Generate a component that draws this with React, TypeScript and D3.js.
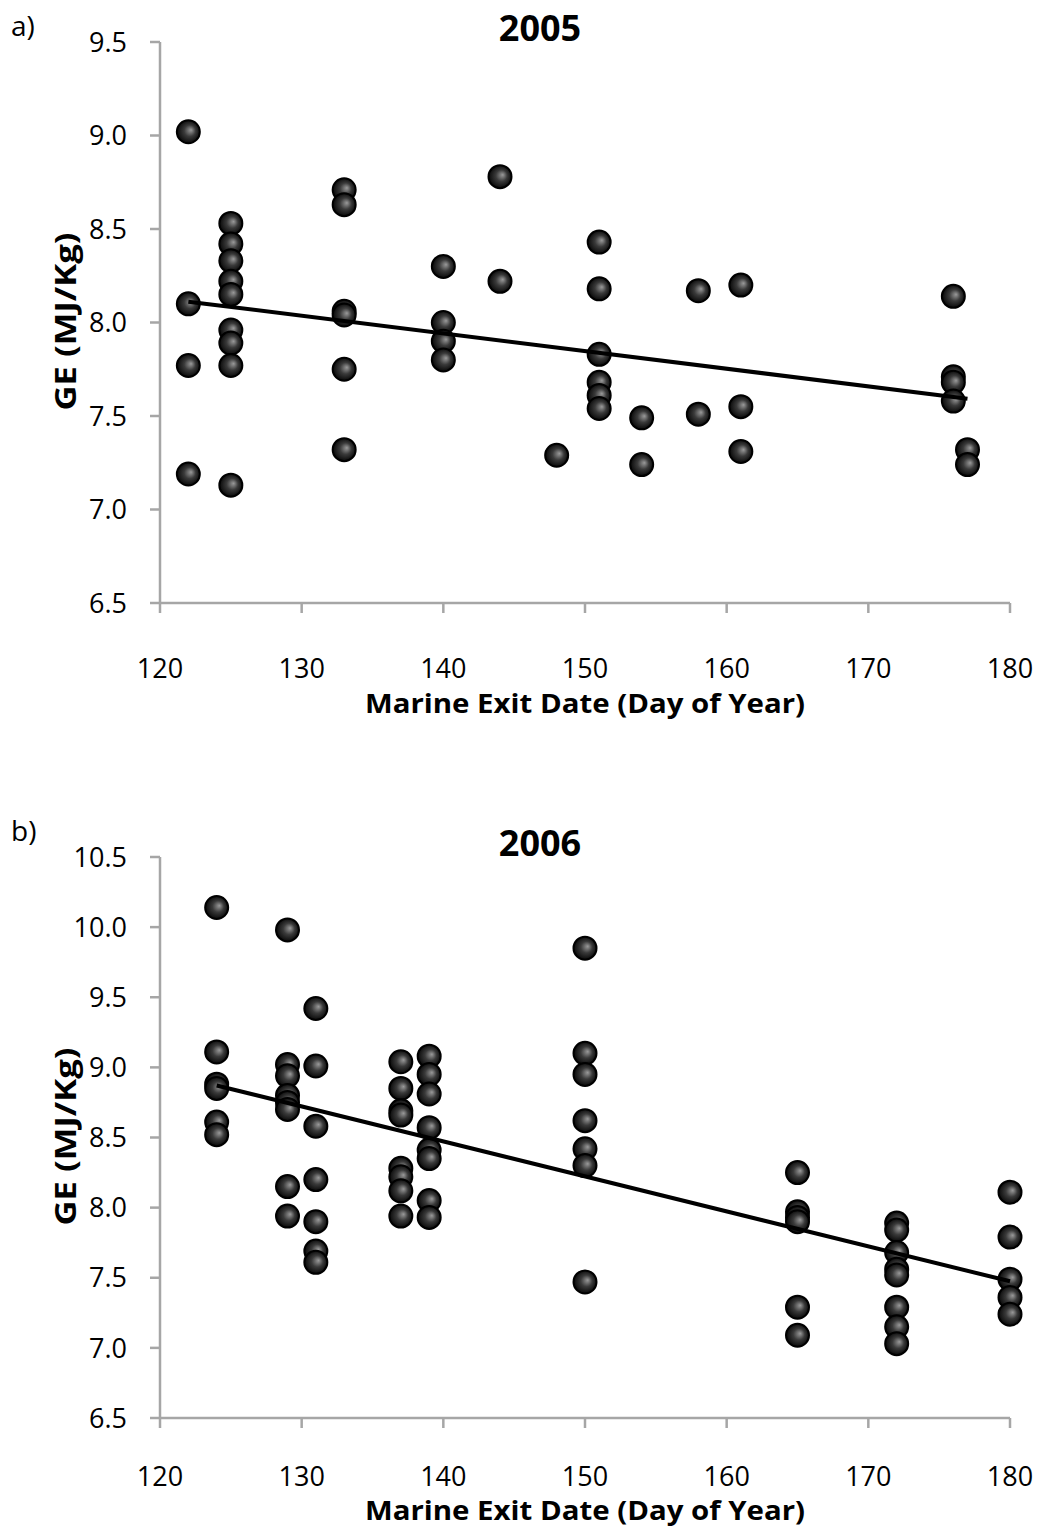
import React from "react";
import * as d3 from "d3";

// 2005 panel: marine exit day vs GE
const days2005 = [
  122, 122, 122, 122,
  125, 125, 125, 125, 125, 125, 125, 125, 125,
  133, 133, 133, 133, 133, 133,
  140, 140, 140, 140,
  144, 144, 148,
  151, 151, 151, 151, 151, 151,
  154, 154, 158, 158,
  161, 161, 161,
  176, 176, 176, 176, 177, 177,
];
const ge2005 = [
  9.02, 8.1, 7.77, 7.19,
  8.53, 8.42, 8.33, 8.22, 8.15, 7.96, 7.89, 7.77, 7.13,
  8.71, 8.63, 8.06, 8.04, 7.75, 7.32,
  8.3, 8.0, 7.9, 7.8,
  8.78, 8.22, 7.29,
  8.43, 8.18, 7.83, 7.68, 7.61, 7.54,
  7.49, 7.24, 8.17, 7.51,
  8.2, 7.55, 7.31,
  8.14, 7.71, 7.68, 7.58, 7.32, 7.24,
];

// 2006 panel
const days2006 = [
  124, 124, 124, 124, 124, 124,
  129, 129, 129, 129, 129, 129, 129, 129,
  131, 131, 131, 131, 131, 131, 131,
  137, 137, 137, 137, 137, 137, 137, 137,
  139, 139, 139, 139, 139, 139, 139, 139,
  150, 150, 150, 150, 150, 150, 150,
  165, 165, 165, 165, 165, 165,
  172, 172, 172, 172, 172, 172, 172, 172,
  180, 180, 180, 180, 180,
];
const ge2006 = [
  10.14, 9.11, 8.88, 8.85, 8.61, 8.52,
  9.98, 9.02, 8.94, 8.8, 8.75, 8.7, 8.15, 7.94,
  9.42, 9.01, 8.58, 8.2, 7.9, 7.69, 7.61,
  9.04, 8.85, 8.69, 8.66, 8.28, 8.22, 8.12, 7.94,
  9.08, 8.95, 8.81, 8.57, 8.41, 8.35, 8.05, 7.93,
  9.85, 9.1, 8.95, 8.62, 8.42, 8.3, 7.47,
  8.25, 7.97, 7.93, 7.9, 7.29, 7.09,
  7.89, 7.84, 7.68, 7.56, 7.52, 7.29, 7.15, 7.03,
  8.11, 7.79, 7.49, 7.36, 7.24,
];

const xTicks = [120, 130, 140, 150, 160, 170, 180];
const yTicksA = [6.5, 7.0, 7.5, 8.0, 8.5, 9.0, 9.5];
const yTicksB = [6.5, 7.0, 7.5, 8.0, 8.5, 9.0, 9.5, 10.0, 10.5];

const FONT = "'Open Sans', 'Noto Sans', sans-serif";
const AXIS = "#a6a6a6";

// least squares trend line
function fit(xs: number[], ys: number[]) {
  const mx = d3.mean(xs)!;
  const my = d3.mean(ys)!;
  let sxy = 0;
  let sxx = 0;
  xs.forEach((x, i) => {
    sxy += (x - mx) * (ys[i] - my);
    sxx += (x - mx) * (x - mx);
  });
  const b = sxy / sxx;
  return (x: number) => my + b * (x - mx);
}

type PanelProps = {
  top: number;
  tag: string;
  tagY: number;
  title: string;
  days: number[];
  ge: number[];
  yTicks: number[];
  tickOff: number;
  titleOff: number;
};

function Panel({ top, tag, tagY, title, days, ge, yTicks, tickOff, titleOff }: PanelProps) {
  const left = 160;
  const right = 1010;
  const plotTop = top;
  const plotBottom = top + 561;

  const x = d3.scaleLinear().domain([120, 180]).range([left, right]);
  const y = d3
    .scaleLinear()
    .domain([yTicks[0], yTicks[yTicks.length - 1]])
    .range([plotBottom, plotTop]);

  const line = fit(days, ge);
  const x0 = d3.min(days)!;
  const x1 = d3.max(days)!;

  return (
    <g>
      <text x={11} y={tagY} fontFamily={FONT} fontSize={28}>
        {tag}
      </text>
      <text
        x={540}
        y={top - 1}
        textAnchor="middle"
        fontFamily={FONT}
        fontSize={36}
        fontWeight="bold"
      >
        {title}
      </text>

      {/* axes */}
      <line x1={left} x2={left} y1={plotTop} y2={plotBottom} stroke={AXIS} strokeWidth={2.5} />
      <line x1={left} x2={right} y1={plotBottom} y2={plotBottom} stroke={AXIS} strokeWidth={2.5} />
      {yTicks.map((t) => (
        <g key={t}>
          <line x1={left - 10} x2={left} y1={y(t)} y2={y(t)} stroke={AXIS} strokeWidth={2.5} />
          <text
            x={left - 33}
            y={y(t)}
            dy="0.36em"
            textAnchor="end"
            fontFamily={FONT}
            fontSize={27}
          >
            {t.toFixed(1)}
          </text>
        </g>
      ))}
      {xTicks.map((t) => (
        <g key={t}>
          <line x1={x(t)} x2={x(t)} y1={plotBottom} y2={plotBottom + 10} stroke={AXIS} strokeWidth={2.5} />
          <text
            x={x(t)}
            y={plotBottom + tickOff}
            textAnchor="middle"
            fontFamily={FONT}
            fontSize={27}
          >
            {t}
          </text>
        </g>
      ))}
      <text
        x={585}
        y={plotBottom + titleOff}
        textAnchor="middle"
        fontFamily={FONT}
        fontSize={27}
        fontWeight="bold"
        textLength={440}
        lengthAdjust="spacingAndGlyphs"
      >
        Marine Exit Date (Day of Year)
      </text>
      <text
        transform={`translate(76,${(plotTop + plotBottom) / 2 - 1}) rotate(-90)`}
        textAnchor="middle"
        fontFamily={FONT}
        fontSize={28}
        fontWeight="bold"
        textLength={178}
        lengthAdjust="spacingAndGlyphs"
      >
        GE (MJ/Kg)
      </text>

      {/* points */}
      {days.map((d, i) => (
        <circle
          key={i}
          cx={x(d)}
          cy={y(ge[i])}
          r={11.5}
          fill="url(#ball)"
          stroke="#000"
          strokeWidth={2}
        />
      ))}

      {/* trend line */}
      <line
        x1={x(x0)}
        y1={y(line(x0))}
        x2={x(x1)}
        y2={y(line(x1))}
        stroke="#000"
        strokeWidth={4}
      />
    </g>
  );
}

export default function App() {
  return (
    <svg width={1044} height={1534} style={{ display: "block", margin: "-8px" }}>
      <defs>
        <radialGradient id="ball" cx="0.5" cy="0.5" r="0.55" fx="0.62" fy="0.42">
          <stop offset="0" stopColor="#9a9a9a" />
          <stop offset="0.45" stopColor="#3a3a3a" />
          <stop offset="1" stopColor="#000" />
        </radialGradient>
      </defs>
      <rect width={1044} height={1534} fill="#fff" />
      <Panel
        top={42}
        tag="a)"
        tagY={36}
        title="2005"
        days={days2005}
        ge={ge2005}
        yTicks={yTicksA}
        tickOff={75}
        titleOff={110}
      />
      <Panel
        top={857}
        tag="b)"
        tagY={841}
        title="2006"
        days={days2006}
        ge={ge2006}
        yTicks={yTicksB}
        tickOff={68}
        titleOff={102}
      />
    </svg>
  );
}
